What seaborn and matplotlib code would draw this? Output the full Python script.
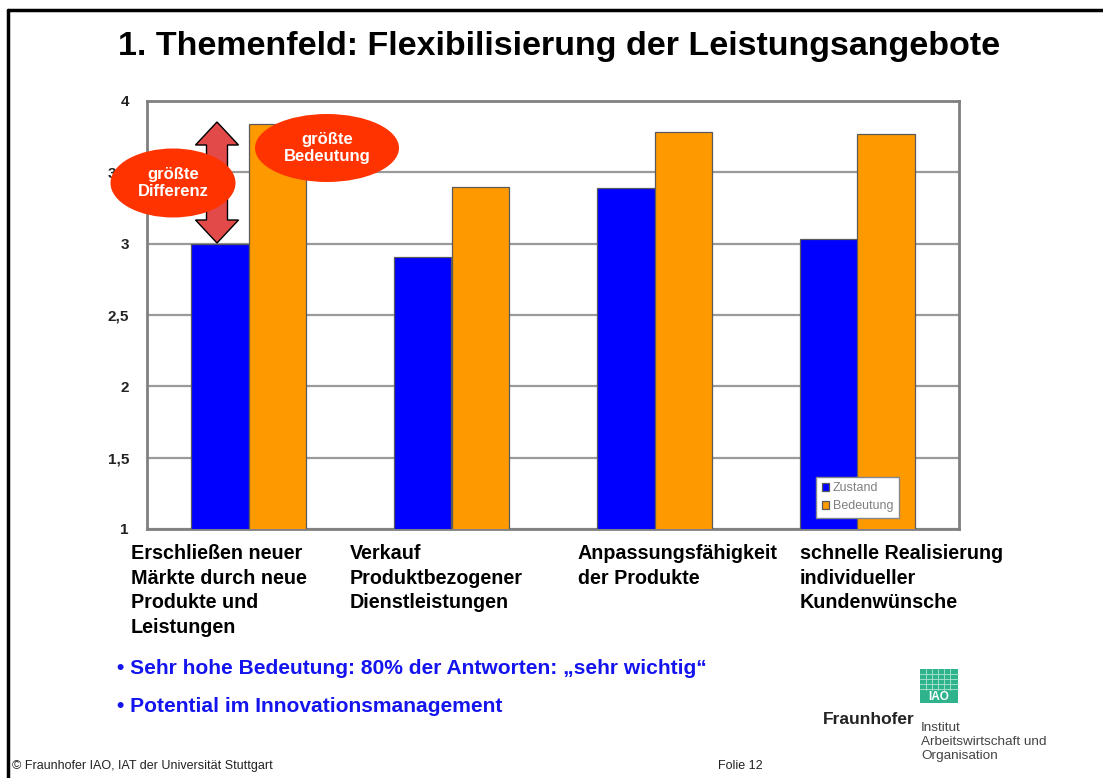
import matplotlib
matplotlib.use("Agg")
import matplotlib.pyplot as plt
import seaborn as sns
import pandas as pd
from matplotlib.patches import Ellipse, Polygon, Rectangle
from matplotlib.lines import Line2D

# data
categories = [
    "Erschließen neuer\nMärkte durch neue\nProdukte und\nLeistungen",
    "Verkauf\nProduktbezogener\nDienstleistungen",
    "Anpassungsfähigkeit\nder Produkte",
    "schnelle Realisierung\nindividueller\nKundenwünsche",
]
zustand = [3.00, 2.91, 3.39, 3.03]
bedeutung = [3.84, 3.40, 3.78, 3.77]
series_names = ["Zustand", "Bedeutung"]
y_ticks = [1, 1.5, 2, 2.5, 3, 3.5, 4]
y_tick_labels = ["1", "1,5", "2", "2,5", "3", "3,5", "4"]
label_x_px = [131, 350, 578, 800]

df = pd.DataFrame({
    "kategorie": categories * 2,
    "wert": zustand + bedeutung,
    "reihe": [series_names[0]] * 4 + [series_names[1]] * 4,
})

sns.set_theme(style="white")
plt.rcParams["font.family"] = ["Liberation Sans", "DejaVu Sans"]

W, H = 1103, 778
fig = plt.figure(figsize=(W / 100, H / 100), dpi=100)
fig.patch.set_facecolor("white")


def px(x, y):
    # pixel position (top-left origin) -> figure fraction
    return x / W, 1 - y / H


def inch(x, y):
    return x / 100, (H - y) / 100


# slide frame
fig.add_artist(Line2D([8 / W, 1], [1 - 10 / H] * 2, color="black", lw=2.5, transform=fig.transFigure))
fig.add_artist(Line2D([8 / W] * 2, [0, 1 - 10 / H], color="black", lw=2.5, transform=fig.transFigure))

fig.text(*px(559, 47), "1. Themenfeld: Flexibilisierung der Leistungsangebote",
         ha="center", va="center", fontsize=24.5, fontweight="bold", color="black")

# chart
l, b = px(147, 529)
r, t = px(959, 101)
ax = fig.add_axes([l, b, r - l, t - b])
sns.barplot(data=df, x="kategorie", y="wert", hue="reihe", hue_order=series_names,
            palette=["#0000ff", "#ff9900"], width=0.567, edgecolor="#5a5a5a",
            linewidth=0.9, saturation=1, ax=ax, zorder=3)
ax.set_ylim(1, 4)
ax.set_yticks(y_ticks)
ax.set_yticklabels(y_tick_labels, fontsize=11, fontweight="bold", color="#222222")
ax.tick_params(axis="y", length=0, pad=13)
ax.set_xticks([])
ax.set_xlabel("")
ax.set_ylabel("")
ax.grid(axis="y", color="#9a9a9a", lw=1.6, zorder=0)
ax.set_axisbelow(True)
for s in ax.spines.values():
    s.set_color("#808080")
    s.set_linewidth(2)
ax.legend(loc="lower right", bbox_to_anchor=(0.934, 0.012), fontsize=9, frameon=True,
          framealpha=1, facecolor="white", fancybox=False, edgecolor="#888888",
          handlelength=0.6, handleheight=0.6, handletextpad=0.3, borderpad=0.45,
          labelspacing=0.45, labelcolor="#808080")

for x, lab in zip(label_x_px, categories):
    fig.text(*px(x, 544), lab, ha="left", va="top", fontsize=14.2, fontweight="bold",
             color="black", linespacing=1.37)

# annotations: double arrow and ellipses
ax_tr = fig.dpi_scale_trans
cx, top, bot = 217, 122, 243
hw, sw, hl = 21.5, 10.5, 23
arrow_pts = [(cx, top), (cx + hw, top + hl), (cx + sw, top + hl), (cx + sw, bot - hl),
             (cx + hw, bot - hl), (cx, bot), (cx - hw, bot - hl), (cx - sw, bot - hl),
             (cx - sw, top + hl), (cx - hw, top + hl)]
fig.add_artist(Polygon([inch(x, y) for x, y in arrow_pts], closed=True, facecolor="#e24a4a",
                       edgecolor="black", lw=1, transform=ax_tr, zorder=5))

for (ex, ey, ew, eh, txt) in [(173, 183, 125, 69, "größte\nDifferenz"),
                              (327, 148, 144, 68, "größte\nBedeutung")]:
    fig.add_artist(Ellipse(inch(ex, ey), ew / 100, eh / 100, facecolor="#ff3300",
                           edgecolor="none", transform=ax_tr, zorder=6))
    fig.text(*px(ex, ey), txt, ha="center", va="center", fontsize=12, fontweight="bold",
             color="white", linespacing=1.2, zorder=7)

# bullets
fig.text(*px(117, 668), "• Sehr hohe Bedeutung: 80% der Antworten: „sehr wichtig“",
         ha="left", va="center", fontsize=15.1, fontweight="bold", color="#1414ee")
fig.text(*px(117, 706), "• Potential im Innovationsmanagement",
         ha="left", va="center", fontsize=15.1, fontweight="bold", color="#1414ee")

# footer
fig.text(*px(12, 766), "© Fraunhofer IAO, IAT der Universität Stuttgart", ha="left",
         va="center", fontsize=9, color="#222222")
fig.text(*px(718, 766), "Folie 12", ha="left", va="center", fontsize=9, color="#222222")

# logo
fig.add_artist(Rectangle(inch(920, 703), 0.38, 0.34, facecolor="#2eb38c", edgecolor="none",
                         transform=ax_tr))
for gy in [674, 679, 684, 689]:
    fig.add_artist(Line2D([920 / W, 958 / W], [1 - gy / H] * 2, color="#9fe0c8", lw=0.7,
                          transform=fig.transFigure))
for gx in [926, 932, 938, 944, 950]:
    fig.add_artist(Line2D([gx / W] * 2, [1 - 669 / H, 1 - 690 / H], color="#9fe0c8", lw=0.7,
                          transform=fig.transFigure))
fig.text(*px(939, 697), "IAO", ha="center", va="center", fontsize=8.5, fontweight="bold",
         color="white")
fig.text(*px(823, 720), "Fraunhofer", ha="left", va="center", fontsize=12.5, fontweight="bold",
         color="#222222")
fig.text(*px(921, 722), "Institut\nArbeitswirtschaft und\nOrganisation", ha="left", va="top",
         fontsize=9.7, color="#444444", linespacing=1.2)

fig.savefig("out.png", dpi=100)
